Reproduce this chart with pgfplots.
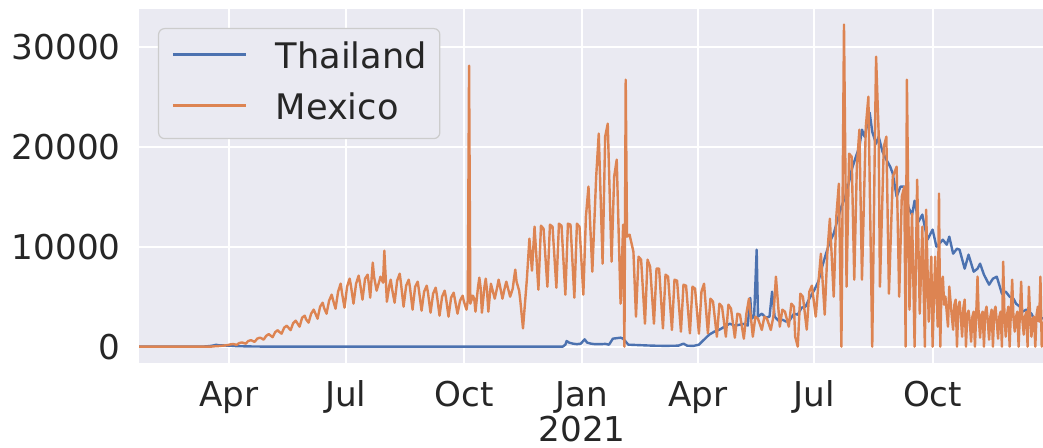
\documentclass[border=0pt]{standalone}
\usepackage{fontspec}
\setmainfont{DejaVu Sans}
\usepackage{pgfplots}
\pgfplotsset{compat=1.18}
\definecolor{bg}{HTML}{EAEAF2}
\definecolor{cblue}{HTML}{4C72B0}
\definecolor{corange}{HTML}{DD8452}
\definecolor{txt}{HTML}{262626}
\definecolor{legedge}{HTML}{CCCCCC}
\begin{document}
\begin{tikzpicture}
\path[use as bounding box] (-69.55pt,-42.6pt) rectangle (452pt,181.4pt);
\begin{axis}[
 at={(0pt,0pt)}, anchor=south west,
 scale only axis, width=452pt, height=177.1pt,
 xmin=0, xmax=704, ymin=-1610, ymax=33810,
 axis background/.style={fill=bg},
 axis line style={draw=none},
 major tick length=0pt,
 grid=major, major grid style={white, line width=1pt},
 xtick={70,161,253,345,435,526,618},
 xticklabels={Apr,Jul,Oct,Jan,Apr,Jul,Oct},
 extra x ticks={345}, extra x tick labels={2021},
 extra x tick style={grid=none, xticklabel style={yshift=-17.4pt}},
 ytick={0,10000,20000,30000},
 scaled y ticks=false,
 yticklabel style={/pgf/number format/fixed, /pgf/number format/1000 sep={}},
 /pgf/number format/assume math mode=true,
 tick label style={font=\fontsize{17.1}{21}\selectfont, text=txt},
 xticklabel style={anchor=base, inner sep=0pt, yshift=-22pt},
 yticklabel style={anchor=east, inner sep=0pt, xshift=-9pt},
 legend style={at={(0.0209,0.9452)}, anchor=north west, draw=legedge, line width=0.6pt,
   fill=bg, rounded corners=3pt, inner xsep=6.5pt, inner ysep=6pt, row sep=8pt,
   column sep=14.35pt, font=\fontsize{17.6}{21}\selectfont, text=txt,
   nodes={inner sep=0pt, text height=14pt, text depth=3.5pt}},
 legend cell align=left,
 legend image code/.code={\draw[#1, line width=1.2pt, rounded corners=0pt] (0pt,1.75pt) -- (36.5pt,1.75pt);},
]
\addplot[cblue, line width=1.2pt, line join=round] table {
0 0
40 2
50 10
55 60
58 120
60 188
62 140
65 130
68 110
71 100
75 60
80 40
85 25
95 10
110 5
140 5
200 5
300 5
330 10
332 200
333 560
335 400
338 300
341 250
344 300
347 730
349 400
352 300
355 250
360 250
363 280
366 200
369 800
372 850
375 900
377 800
379 500
381 200
390 150
400 100
410 80
420 100
424 300
427 90
432 80
436 200
440 700
444 1200
448 1500
452 1700
456 2000
460 2300
464 2100
468 2200
472 2300
474 2100
476 4870
477 2800
479 3000
481 9700
482 3000
485 3300
488 2900
491 3000
493 5500
495 3000
498 2600
501 2700
504 2500
507 2700
510 3300
513 3200
516 3900
519 4000
522 4800
526 5700
529 6500
532 8000
535 9300
538 10500
541 11300
544 12700
547 14000
550 15000
553 16500
555 17700
558 18900
561 20000
563 21700
565 21000
568 22700
569 23400
571 21500
574 20300
576 21000
579 19500
582 18700
585 18000
587 17300
590 15000
593 16000
596 16000
599 14000
602 13170
604 14600
607 12500
610 13200
614 10700
618 11700
621 10000
624 10400
626 10700
629 10200
631 11000
634 9300
637 9800
639 9700
643 7800
646 9200
650 7500
653 7800
655 8300
658 7200
662 6200
665 6800
668 7000
672 5300
675 5500
678 5000
681 4800
683 4300
686 4000
688 3500
691 3700
695 3300
698 2500
701 3000
704 2800
};
\addlegendentry{Thailand}
\addplot[corange, line width=1.2pt, line join=round] table {
0 0
56 0
58 30
62 60
66 110
69 160
71 220
73 260
74 240
76 180
78 360
80 420
81 390
83 300
85 560
87 650
88 600
90 480
92 800
94 900
95 860
97 700
99 1080
101 1250
102 1150
104 950
106 1450
108 1650
109 1500
111 1300
113 1900
115 2100
116 1950
118 1650
120 2350
122 2600
123 2400
125 2000
127 2900
129 3100
130 2750
132 2400
134 3300
136 3700
137 3400
139 2800
141 4000
143 4400
144 3900
146 3300
148 4600
150 5200
151 4700
153 3800
155 5500
157 6300
158 5400
160 3900
162 6000
164 6800
165 6100
167 4300
169 6300
171 7100
172 6400
174 4700
176 6800
178 7200
179 6200
180 4900
182 8400
183 7000
185 5600
187 6500
188 7000
190 6400
191 9600
193 4500
195 6200
196 6700
197 5800
199 4400
201 6600
203 7300
204 6300
206 4000
208 6100
210 6700
211 5900
213 3700
215 6000
217 6500
218 5600
220 3600
222 5500
224 6100
225 5400
227 3400
229 5300
231 5900
232 5100
234 3100
236 5000
238 5600
239 4900
241 3000
243 4900
245 5400
246 4700
248 3300
250 4600
252 5100
253 4500
255 3700
256 4600
257 28100
258 4300
260 5100
261 4800
262 3500
264 6000
265 6900
266 5900
267 3400
269 6000
270 6800
271 5600
272 3500
274 6300
275 5800
277 4800
279 6000
280 6700
281 6100
283 4800
285 6000
286 6500
287 6000
289 5000
291 5800
292 6800
293 7700
294 6500
296 5600
297 4500
299 1830
302 6700
304 10800
306 7600
308 12000
311 5700
313 12100
315 11800
318 6000
320 12200
322 12000
325 5900
327 12300
329 12100
332 5200
334 12300
336 12200
339 4900
341 12300
343 12000
346 5200
348 13000
350 16000
353 7500
356 17000
358 21300
361 8300
363 21000
365 22300
368 8500
370 17000
372 18700
375 4300
377 12200
378 0
379 26700
380 11000
382 11200
385 9500
387 3000
389 9000
391 8700
394 2300
396 8700
398 8000
401 2300
403 7800
405 7800
408 1830
410 7200
412 7000
415 1670
417 6700
419 6600
422 1500
424 6200
426 6100
429 1330
431 6000
433 5800
436 1300
438 5500
440 6300
443 1330
445 4800
447 4500
450 1000
452 4300
454 4000
457 1000
459 4200
461 3800
464 900
466 3300
468 3200
471 800
473 3300
475 4800
478 1000
480 3000
482 2800
485 1670
487 3000
489 2800
492 1670
494 3000
496 7000
499 2000
501 3700
503 3500
506 2000
508 4300
510 4000
511 1000
513 0
515 5300
517 5000
520 1700
522 5500
524 6100
527 3000
529 6200
531 9300
534 3200
536 9300
538 12800
541 5000
543 13000
545 16300
547 0
549 32200
551 6000
553 19300
555 19000
557 6700
559 18000
561 21700
563 6700
566 22000
568 25000
571 0
573 20000
574 29000
576 21300
577 6000
580 20000
582 21000
584 5300
587 17000
590 18000
592 5000
594 15000
596 16000
597 0
598 26700
600 3700
602 13300
604 0
606 16700
608 3300
610 12000
612 0
613 13700
615 2500
617 9000
618 0
620 9000
622 2000
623 15300
624 0
625 6500
626 7000
627 4200
628 5000
629 3500
630 2000
631 6000
632 4500
633 3000
634 1700
635 4200
636 4700
637 0
638 3800
639 4500
640 3000
641 1000
642 3900
643 4700
644 0
645 3200
646 3600
647 2500
648 500
649 3000
650 3500
651 0
652 3300
653 7000
654 2800
655 900
656 3200
657 3500
658 0
659 3400
660 4000
661 2600
662 700
663 3000
664 3700
665 0
666 3500
667 4000
668 2500
669 800
670 3000
671 3500
672 0
673 8500
674 3000
675 1000
676 3200
677 4000
678 0
679 3600
680 6700
681 2800
682 1500
683 3000
684 3500
685 0
686 3300
687 6500
688 2600
689 1200
690 3000
691 3500
692 0
693 6000
694 3000
695 1000
696 2800
697 3000
698 0
699 3200
700 4000
701 2500
702 7000
703 0
704 2500
};
\addlegendentry{Mexico}
\end{axis}
\end{tikzpicture}
\end{document}
